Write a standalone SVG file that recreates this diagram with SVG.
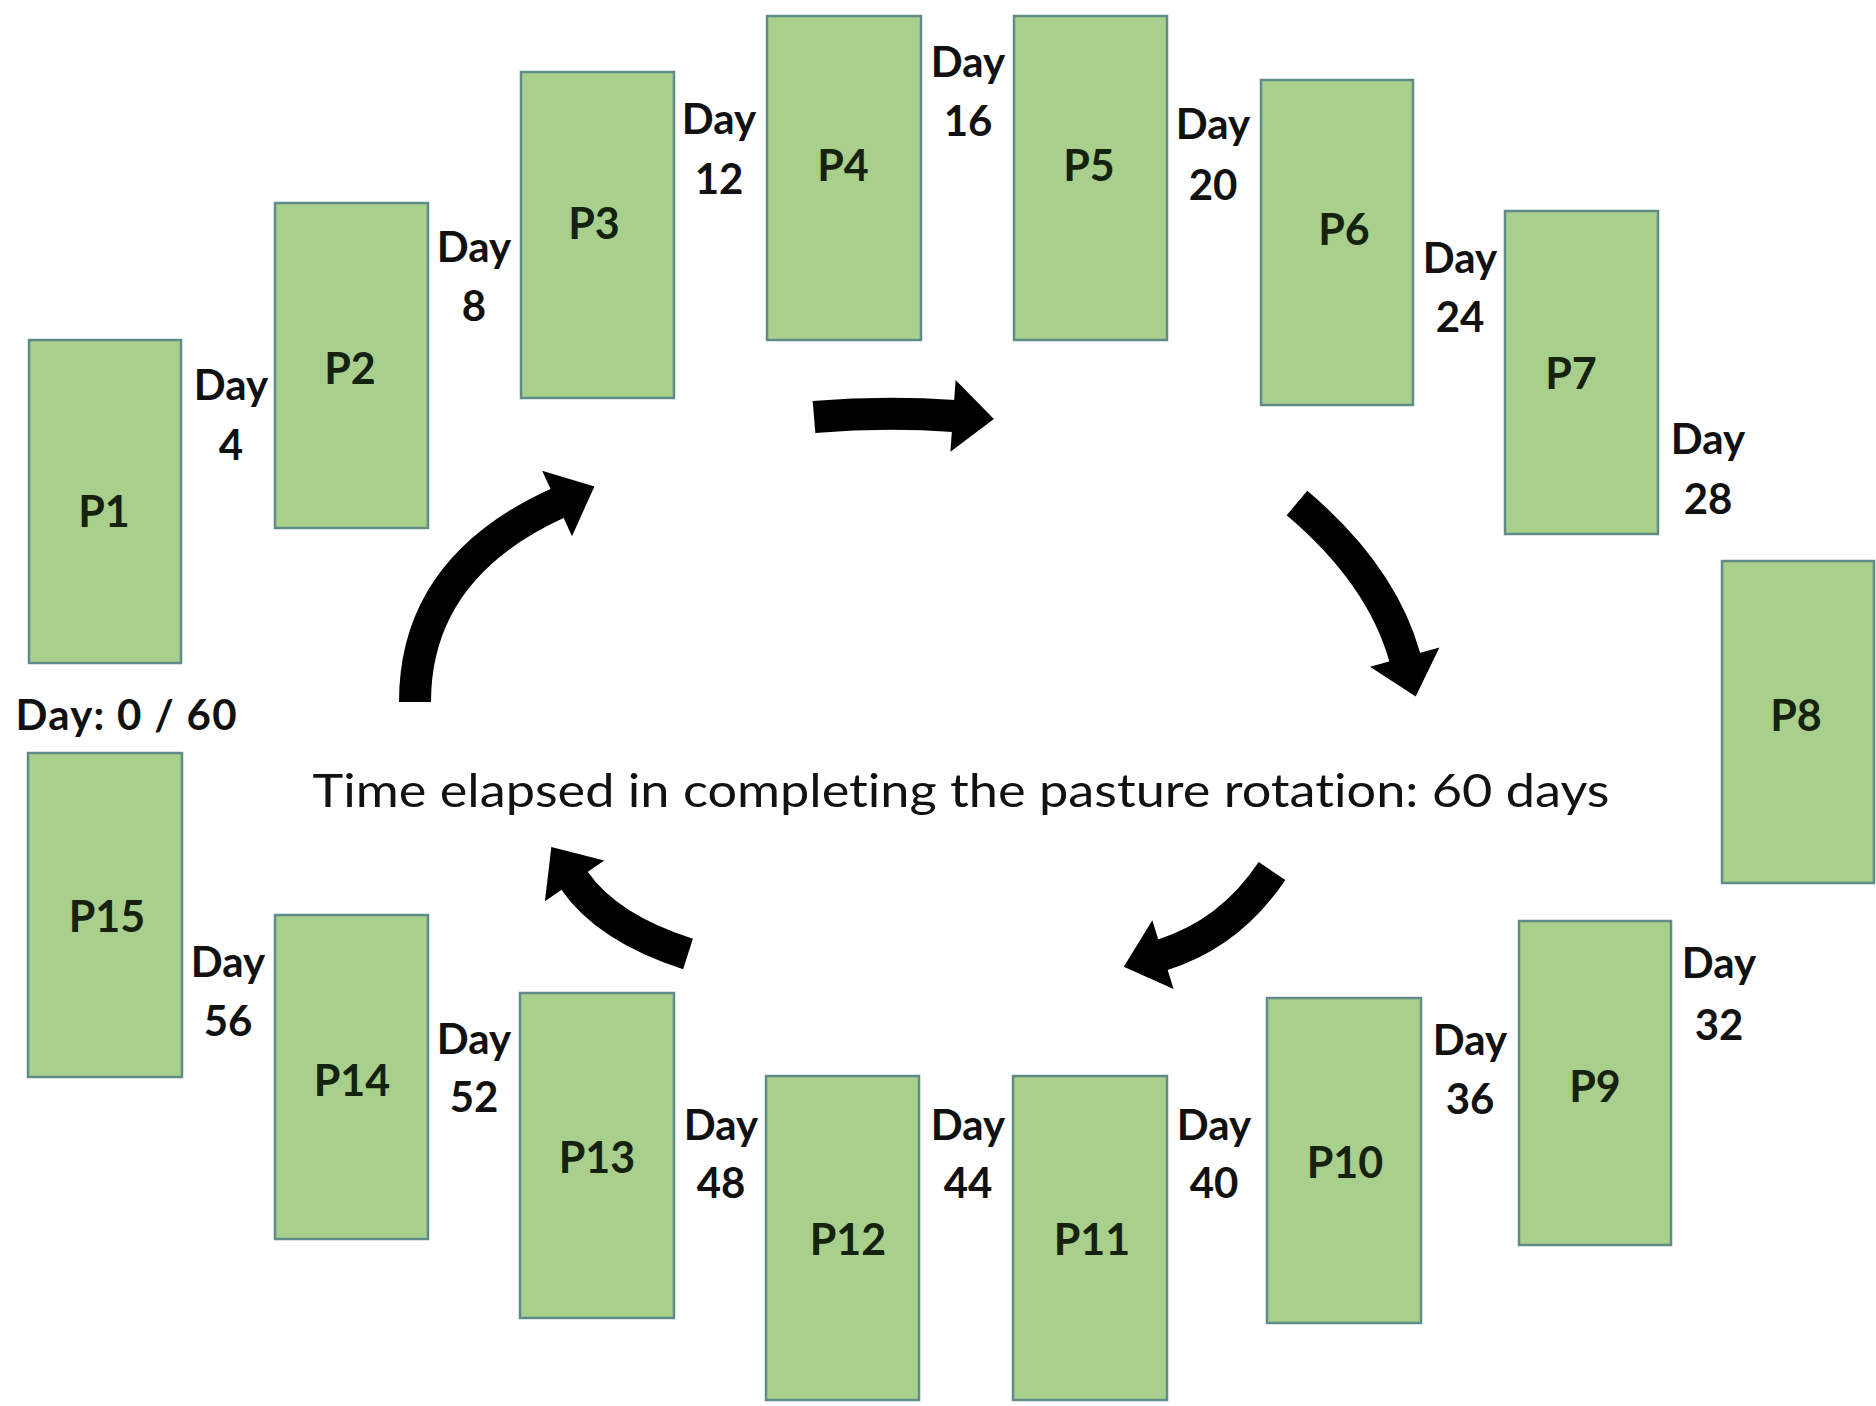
<svg xmlns="http://www.w3.org/2000/svg" width="1876" height="1406" viewBox="0 0 1876 1406">
<style>
.box{fill:#a8cf8c;stroke:#5f8c88;stroke-width:2.5}
.pl{font-family:Lato,"Liberation Sans",sans-serif;font-weight:bold;font-size:43px;fill:#15220f;text-anchor:middle}
.dl{font-family:Lato,"Liberation Sans",sans-serif;font-weight:bold;font-size:42px;fill:#111;text-anchor:middle}
.main{font-family:Lato,"Liberation Sans",sans-serif;font-size:47px;fill:#111;text-anchor:middle;font-variant-ligatures:none}
.arr{fill:none;stroke:#000;stroke-width:32;stroke-linecap:butt;marker-end:url(#head)}
</style>
<defs>
<marker id="head" markerUnits="userSpaceOnUse" markerWidth="50" markerHeight="80" viewBox="-2 -40 48 80" refX="0" refY="0" orient="auto">
<path d="M-1,-36 L40,0 L-1,36 Z" fill="#000"/>
</marker>
</defs>
<rect width="1876" height="1406" fill="#fff"/>

<g id="connectors">
<path class="arr" d="M814,417 Q885,411 954,416"/>
<path class="arr" d="M1297,503 Q1382,575 1405,658"/>
<path class="arr" d="M1272,871 Q1230,934 1162,955"/>
<path class="arr" d="M688,954 Q607,928 574,880"/>
<path class="arr" d="M415,702 Q415,568 558,503"/>
</g>

<g id="P1"><rect class="box" x="29" y="340" width="152" height="323"/><text class="pl" x="104" y="527">P1</text></g>
<g id="P2"><rect class="box" x="275" y="203" width="153" height="325"/><text class="pl" x="350" y="384">P2</text></g>
<g id="P3"><rect class="box" x="521" y="72" width="153" height="326"/><text class="pl" x="594" y="239">P3</text></g>
<g id="P4"><rect class="box" x="767" y="16" width="154" height="324"/><text class="pl" x="843" y="181">P4</text></g>
<g id="P5"><rect class="box" x="1014" y="16" width="153" height="324"/><text class="pl" x="1089" y="181">P5</text></g>
<g id="P6"><rect class="box" x="1261" y="80" width="152" height="325"/><text class="pl" x="1344" y="245">P6</text></g>
<g id="P7"><rect class="box" x="1505" y="211" width="153" height="323"/><text class="pl" x="1571" y="389">P7</text></g>
<g id="P8"><rect class="box" x="1722" y="561" width="152" height="322"/><text class="pl" x="1796" y="731">P8</text></g>
<g id="P9"><rect class="box" x="1519" y="921" width="152" height="324"/><text class="pl" x="1595" y="1102">P9</text></g>
<g id="P10"><rect class="box" x="1267" y="998" width="154" height="325"/><text class="pl" x="1345" y="1178">P10</text></g>
<g id="P11"><rect class="box" x="1013" y="1076" width="154" height="324"/><text class="pl" x="1092" y="1255">P11</text></g>
<g id="P12"><rect class="box" x="766" y="1076" width="153" height="324"/><text class="pl" x="848" y="1255">P12</text></g>
<g id="P13"><rect class="box" x="520" y="993" width="154" height="325"/><text class="pl" x="597" y="1173">P13</text></g>
<g id="P14"><rect class="box" x="275" y="915" width="153" height="324"/><text class="pl" x="352" y="1096">P14</text></g>
<g id="P15"><rect class="box" x="28" y="753" width="154" height="324"/><text class="pl" x="107" y="932">P15</text></g>

<g id="labels">
<text class="dl" x="231" y="400">Day</text><text class="dl" x="231" y="460">4</text>
<text class="dl" x="474" y="262">Day</text><text class="dl" x="474" y="321">8</text>
<text class="dl" x="719" y="134">Day</text><text class="dl" x="719" y="194">12</text>
<text class="dl" x="968" y="77">Day</text><text class="dl" x="968" y="136">16</text>
<text class="dl" x="1213" y="139">Day</text><text class="dl" x="1213" y="200">20</text>
<text class="dl" x="1460" y="273">Day</text><text class="dl" x="1460" y="332">24</text>
<text class="dl" x="1708" y="454">Day</text><text class="dl" x="1708" y="514">28</text>
<text class="dl" x="1719" y="978">Day</text><text class="dl" x="1719" y="1040">32</text>
<text class="dl" x="1470" y="1055">Day</text><text class="dl" x="1470" y="1114">36</text>
<text class="dl" x="1214" y="1140">Day</text><text class="dl" x="1214" y="1198">40</text>
<text class="dl" x="968" y="1140">Day</text><text class="dl" x="968" y="1198">44</text>
<text class="dl" x="721" y="1140">Day</text><text class="dl" x="721" y="1198">48</text>
<text class="dl" x="474" y="1054">Day</text><text class="dl" x="474" y="1112">52</text>
<text class="dl" x="228" y="977">Day</text><text class="dl" x="228" y="1036">56</text>
<text class="dl" x="126" y="730" textLength="221">Day: 0 / 60</text>
<text class="main" x="961" y="807" textLength="1297" lengthAdjust="spacingAndGlyphs">Time elapsed in completing the pasture rotation: 60 days</text>
</g>
</svg>
